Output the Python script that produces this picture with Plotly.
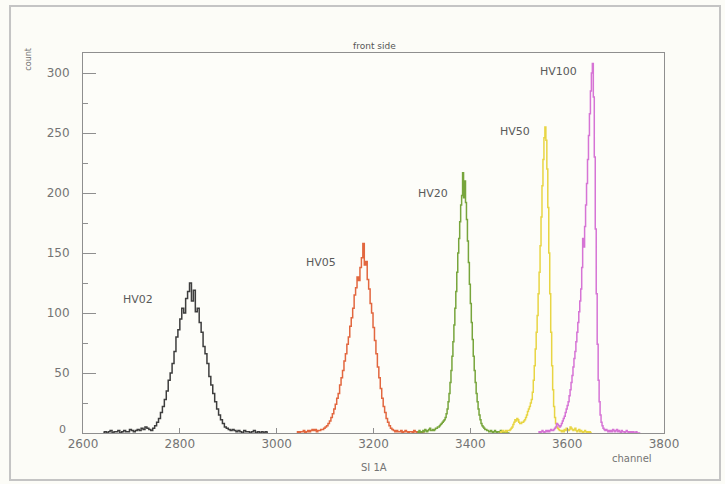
import numpy as np
import plotly.graph_objects as go

# Pulse-height spectra of detector SI 1A (front side) at several bias voltages.
# Each series: first channel, bin width (channels), counts per bin.
hv02_start, hv02_width = 2640, 4
hv02_counts = [
    0, 1, 0, 1, 2, 0, 1, 1, 2, 0, 1, 2, 1, 1, 3, 2, 1, 2, 3, 2, 4, 3, 5, 4, 3,
    2, 4, 6, 9, 12, 17, 22, 28, 35, 44, 50, 58, 68, 80, 86, 95, 104, 100, 112,
    118, 125, 110, 119, 101, 104, 92, 84, 72, 66, 58, 47, 40, 33, 26, 20, 15,
    11, 8, 5, 4, 3, 2,
    3, 2, 1, 2, 1, 0, 2, 1, 1, 0, 1, 2, 0, 1, 0, 1, 0, 1, 0,
]

hv05_start, hv05_width = 3040, 3
hv05_counts = [
    0, 1, 0, 1, 1, 2, 0, 1, 2, 1, 2, 3, 2, 3,
    1, 2, 2, 3, 3, 4, 5, 6, 8, 10, 13, 16, 20, 24, 29, 33, 40, 46, 52, 60,
    66, 74, 80, 89, 96, 104, 115, 121, 130, 127, 138, 146, 158, 140, 143,
    128, 120, 108, 100, 88, 77, 66, 55, 46, 37, 29, 22, 17, 12, 9, 6, 4, 3, 2, 1,
    2, 1, 1, 2, 0, 1, 2, 1, 0, 1, 1, 0, 2, 1, 0, 1, 0, 1, 0, 0,
]

hv20_start, hv20_width = 3290, 2
hv20_counts = [
    1, 0, 2, 1, 0, 1, 2, 1, 3, 2, 1, 2, 3, 4, 2,
    2, 3, 2, 3, 4, 4, 5, 5, 6, 7, 8, 9, 10, 11, 13, 16, 20, 26, 33, 42, 52,
    64, 76, 90, 104, 118, 134, 150, 162, 176, 190, 198, 217, 196, 210, 192,
    178, 160, 142, 124, 108, 92, 78, 64, 52, 42, 33, 26, 20, 15, 11, 8, 6, 5,
    4, 3, 3, 2, 2, 1, 1,
    2, 1, 0, 1, 2, 1, 0, 1, 1, 0, 2, 1, 0, 1, 0, 0, 1, 0, 0, 0,
]

hv50_start, hv50_width = 3460, 2
hv50_counts = [
    1, 0, 1, 2, 1, 1, 2, 1, 2, 2,
    2, 3, 4, 5, 7, 9, 11, 10, 12, 11, 9, 8, 8, 9, 9, 10, 11, 13, 15, 18, 20,
    22, 25, 28, 34, 44, 56, 70, 84, 98, 116, 134, 156, 180, 206, 228, 246,
    255, 244, 220, 188, 150, 116, 84, 56, 36, 22, 13, 8, 5, 4, 3, 2, 2, 1,
    2, 1, 3, 2, 4, 3, 2, 3, 5, 4, 3, 2, 3, 4, 2, 1, 2, 3, 1, 2, 1, 0, 1, 2,
    1, 0, 1, 0, 1, 0, 0,
]

hv100_start, hv100_width = 3540, 2
hv100_counts = [
    0, 1, 0, 1, 2, 1, 0, 1, 2, 1, 2, 1, 2, 3, 2,
    2, 3, 4, 5, 8, 7, 6, 5, 6, 8, 10, 12, 14, 17, 20, 23, 26, 31, 36, 42, 48,
    55, 62, 68, 76, 84, 92, 101, 110, 120, 138, 162, 155, 172, 190, 208, 228,
    248, 266, 285, 300, 308, 280, 230, 170, 116, 74, 44, 26, 15, 9, 6, 4, 3,
    2, 3, 2, 1, 2, 1,
    2, 1, 3, 2, 1, 2, 3, 1, 2, 1, 0, 2, 1, 1, 0, 1, 2, 1, 0, 1, 0, 1, 0, 1,
    0, 0, 1, 0, 0, 0, 0,
]

series_names = ["HV02", "HV05", "HV20", "HV50", "HV100"]
series_colors = ["#3e3e3e", "#e2673f", "#77a53c", "#e8d544", "#d674d5"]
series = [
    (hv02_start, hv02_width, hv02_counts),
    (hv05_start, hv05_width, hv05_counts),
    (hv20_start, hv20_width, hv20_counts),
    (hv50_start, hv50_width, hv50_counts),
    (hv100_start, hv100_width, hv100_counts),
]

# label anchor points (channel, count) for each spectrum
label_channels = [2714, 3092, 3323, 3493, 3583]
label_counts = [111, 142, 200, 251, 301]

x_ticks = [2600, 2800, 3000, 3200, 3400, 3600, 3800]
y_ticks = [0, 50, 100, 150, 200, 250, 300]
y_tick_text = ["", "50", "100", "150", "200", "250", "300"]

text_color = "#747474"
font_family = "DejaVu Sans"

fig = go.Figure()
for name, color, (start, width, counts) in zip(series_names, series_colors, series):
    channels = start + width * np.arange(len(counts)) + width / 2
    fig.add_trace(go.Scatter(
        x=channels, y=counts, mode="lines", name=name,
        line=dict(color=color, width=1.5, shape="hvh"),
        showlegend=False, hoverinfo="skip",
    ))

for name, cx, cy in zip(series_names, label_channels, label_counts):
    fig.add_annotation(
        x=cx, y=cy, text=name, showarrow=False, xref="x", yref="y",
        font=dict(family=font_family, size=11, color="#5a5a5a"),
    )

axis_common = dict(
    showgrid=False, zeroline=False, showline=True, mirror=True,
    linecolor="#8f8f8f", linewidth=1,
    tickfont=dict(family=font_family, size=12, color=text_color),
    ticks="inside", tickcolor="#8f8f8f",
)

fig.update_xaxes(
    range=[2600, 3800], tickvals=x_ticks, ticklen=5, **axis_common,
)
fig.update_yaxes(
    range=[0, 316.7], tickvals=y_ticks, ticktext=y_tick_text, ticklen=13,
    minor=dict(ticks="inside", ticklen=5, tickcolor="#8f8f8f", dtick=25, tick0=0),
    ticklabelstandoff=10, **axis_common,
)

# zero of the count axis, set just above the channel labels
fig.add_annotation(x=-0.036, y=0.01, xref="paper", yref="paper", text="0",
                   showarrow=False, xanchor="center", yanchor="middle",
                   font=dict(family=font_family, size=11, color=text_color))

# axis captions and title
fig.add_annotation(x=-0.093, y=0.985, xref="paper", yref="paper", text="count",
                   textangle=-90, showarrow=False, xanchor="center", yanchor="middle",
                   font=dict(family=font_family, size=8, color=text_color))
fig.add_annotation(x=0.502, y=1.018, xref="paper", yref="paper", text="front side",
                   showarrow=False, xanchor="center", yanchor="middle",
                   font=dict(family=font_family, size=9, color="#555555"))
fig.add_annotation(x=0.501, y=-0.092, xref="paper", yref="paper", text="SI 1A",
                   showarrow=False, xanchor="center", yanchor="middle",
                   font=dict(family=font_family, size=10, color=text_color))
fig.add_annotation(x=0.945, y=-0.066, xref="paper", yref="paper", text="channel",
                   showarrow=False, xanchor="center", yanchor="middle",
                   font=dict(family=font_family, size=10, color=text_color))

# outer frame around the whole figure
fig.add_shape(type="rect", xref="paper", yref="paper",
              x0=-0.1256, x1=1.0964, y0=-0.1237, y1=1.1237,
              line=dict(color="#c4c4c4", width=2), layer="below")

fig.update_layout(
    width=725, height=484,
    margin=dict(l=83, r=61, t=53, b=51),
    paper_bgcolor="#fcfcf7", plot_bgcolor="#fdfdf9",
    font=dict(family=font_family, color=text_color),
)

fig.write_html("out.html")
